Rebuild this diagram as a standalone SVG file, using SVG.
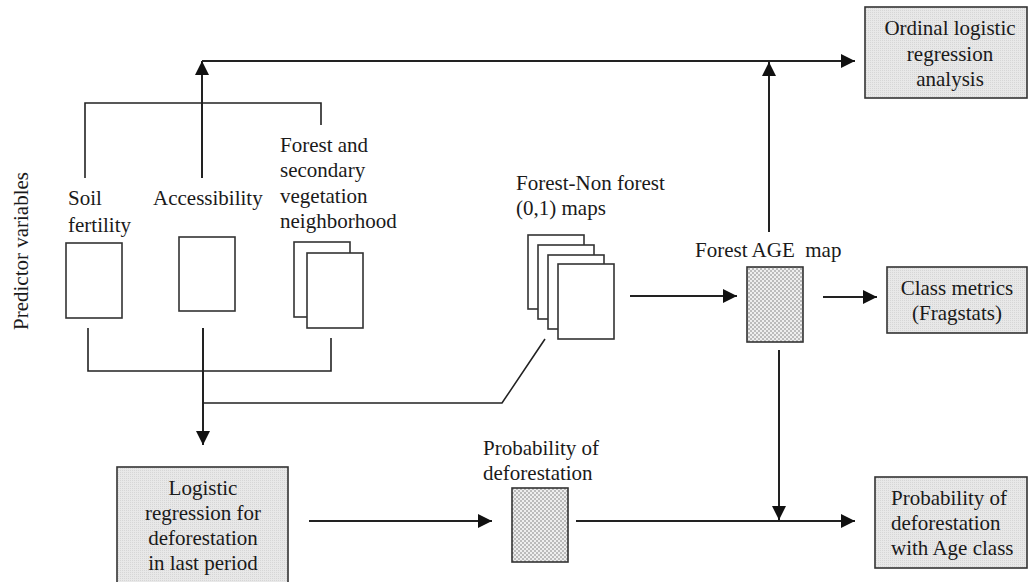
<svg xmlns="http://www.w3.org/2000/svg" width="1028" height="582" viewBox="0 0 1028 582">
<style>
text{font-family:"Liberation Serif","Times New Roman",serif;font-size:21px;fill:#1a1a1a}
.c{text-anchor:middle}
.map{fill:#fff;stroke:#333;stroke-width:1.6}
.dot{fill:url(#dots);stroke:#333;stroke-width:1.6}
.box{fill:url(#shade);stroke:#333;stroke-width:1.6}
.ln{fill:none;stroke:#222;stroke-width:1.6}
.ar{fill:none;stroke:#222;stroke-width:2;marker-end:url(#ah)}
</style>
<defs>
<marker id="ah" markerUnits="userSpaceOnUse" markerWidth="14" markerHeight="14" viewBox="0 0 12 12" refX="12" refY="6" orient="auto">
<path d="M0,0 L12,6 L0,12 Z" fill="#111"/>
</marker>
<pattern id="dots" width="4" height="4" patternUnits="userSpaceOnUse">
<rect width="4" height="4" fill="#eeeeee"/>
<circle cx="1" cy="1" r="0.75" fill="#707070"/>
<circle cx="3" cy="3" r="0.75" fill="#707070"/>
</pattern>
<pattern id="shade" width="2" height="2" patternUnits="userSpaceOnUse">
<rect width="2" height="2" fill="#e8e8e8"/>
<rect width="1" height="1" fill="#d6d6d6"/>
</pattern>
</defs>

<g id="connectors">
<path class="ln" d="M85,178 V103 H321 V125"/>
<path class="ar" d="M202,178 V61"/>
<path class="ar" d="M202,61 H855"/>
<path class="ln" d="M88,328 V371 H331 V338"/>
<path class="ar" d="M203,328 V445"/>
<path class="ln" d="M203,403 H502 L545,339"/>
<path class="ar" d="M630,296 H737"/>
<path class="ar" d="M823,297 H877"/>
<path class="ar" d="M769,232 V62"/>
<path class="ar" d="M779,350 V520"/>
<path class="ar" d="M309,521 H492"/>
<path class="ar" d="M576,521 H855"/>
</g>

<g id="predictor-label">
<text class="c" transform="rotate(-90 28 251)" x="28" y="251">Predictor variables</text>
</g>

<g id="soil">
<text x="68" y="205">Soil</text>
<text x="68" y="232">fertility</text>
<rect class="map" x="66" y="243" width="56" height="75"/>
</g>

<g id="accessibility">
<text x="153" y="205">Accessibility</text>
<rect class="map" x="179" y="237" width="56" height="74"/>
</g>

<g id="neighborhood">
<text x="280" y="152">Forest and</text>
<text x="280" y="177">secondary</text>
<text x="280" y="203">vegetation</text>
<text x="280" y="228">neighborhood</text>
<rect class="map" x="294" y="242" width="56" height="75"/>
<rect class="map" x="307" y="253" width="56" height="75"/>
</g>

<g id="forest-nonforest">
<text x="516" y="190">Forest-Non forest</text>
<text x="516" y="215">(0,1) maps</text>
<rect class="map" x="528" y="235" width="56" height="74"/>
<rect class="map" x="538" y="245" width="56" height="74"/>
<rect class="map" x="548" y="255" width="56" height="74"/>
<rect class="map" x="558" y="264" width="56" height="75"/>
</g>

<g id="forest-age">
<text x="695" y="257" xml:space="preserve">Forest AGE  map</text>
<rect class="dot" x="747" y="267" width="56" height="75"/>
</g>

<g id="ordinal">
<rect class="box" x="865" y="7" width="162" height="91"/>
<text class="c" x="950" y="35">Ordinal logistic</text>
<text class="c" x="950" y="61">regression</text>
<text class="c" x="950" y="86">analysis</text>
</g>

<g id="class-metrics">
<rect class="box" x="887" y="267" width="140" height="66"/>
<text class="c" x="957" y="295">Class metrics</text>
<text class="c" x="957" y="320">(Fragstats)</text>
</g>

<g id="logistic">
<rect class="box" x="117" y="467" width="171" height="125"/>
<text class="c" x="203" y="495">Logistic</text>
<text class="c" x="203" y="520">regression for</text>
<text class="c" x="203" y="545">deforestation</text>
<text class="c" x="203" y="570">in last period</text>
</g>

<g id="probability">
<text x="483" y="455">Probability of</text>
<text x="483" y="480">deforestation</text>
<rect class="dot" x="512" y="488" width="56" height="74"/>
</g>

<g id="prob-age">
<rect class="box" x="875" y="477" width="152" height="91"/>
<text x="891" y="505">Probability of</text>
<text x="891" y="530">deforestation</text>
<text x="891" y="555">with Age class</text>
</g>
</svg>
